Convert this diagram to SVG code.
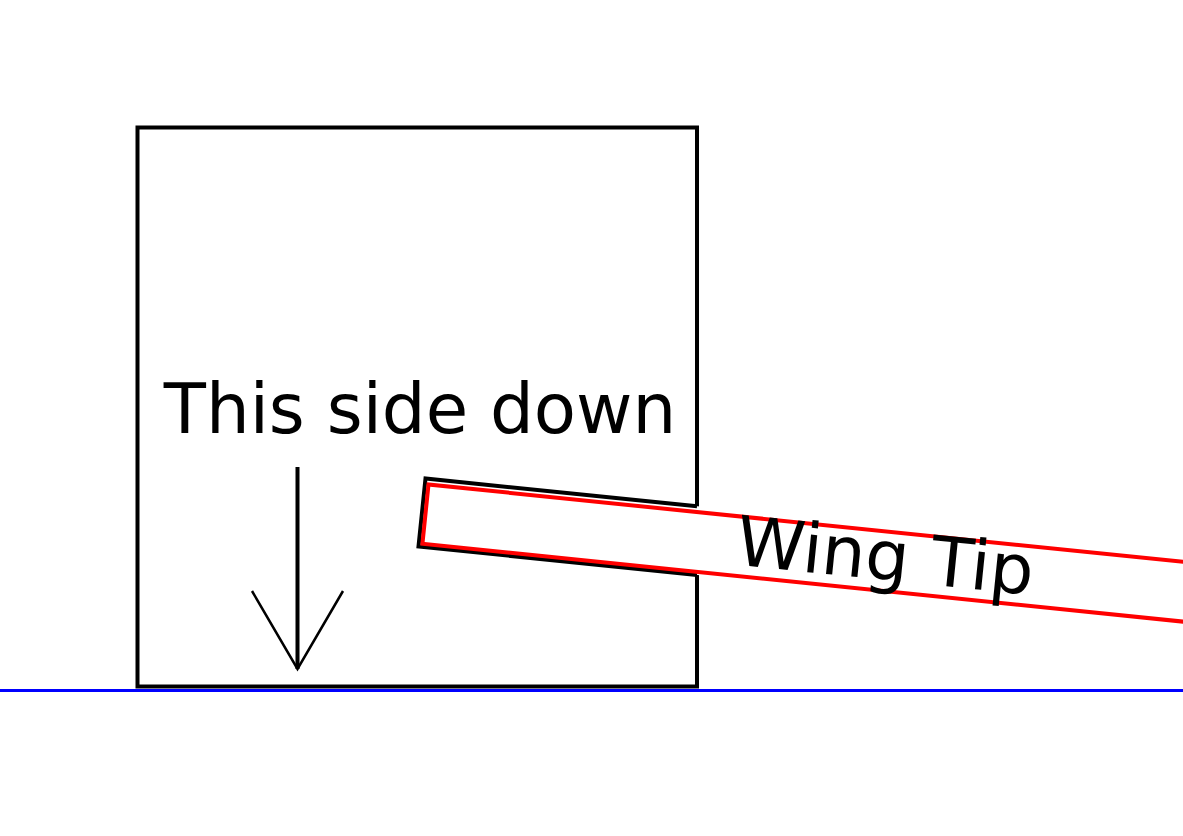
<svg xmlns="http://www.w3.org/2000/svg" width="1183" height="836" viewBox="0 0 1183 836">
  <style>
    .lbl { font-family: "DejaVu Sans", "Liberation Sans", sans-serif; font-size: 69px; fill: #000; }
    .blk { fill: none; stroke: #000; stroke-width: 4; }
  </style>
  <rect width="1183" height="836" fill="#fff"/>
  <g id="ground">
    <line x1="0" y1="690.5" x2="1183" y2="690.5" stroke="#0000ff" stroke-width="3"/>
  </g>
  <g id="box">
    <rect class="blk" x="137.5" y="127.5" width="559.5" height="559" stroke-linejoin="miter"/>
    <text class="lbl" x="420" y="433" text-anchor="middle">This side down</text>
  </g>
  <g id="wing">
    <polygon points="700,506.6 425.5,478.5 418.5,546.5 700,575.3" fill="#fff"/>
    <polyline class="blk" points="697,506.3 425.5,478.5 418.5,546.5 697,575" stroke-linejoin="miter" stroke-width="4.5"/>
    <g transform="rotate(5.85 428.5 484.5)">
      <rect x="428.5" y="484.5" width="820" height="59.5" fill="#fff" stroke="#ff0000" stroke-width="4"/>
      <text class="lbl" x="741" y="533">Wing Tip</text>
    </g>
  </g>
  <g id="connectors">
    <line x1="297.5" y1="467" x2="297.5" y2="669" stroke="#000" stroke-width="4"/>
    <polyline points="252,591 297.5,669 343,591" fill="none" stroke="#000" stroke-width="2.5"/>
  </g>
</svg>
